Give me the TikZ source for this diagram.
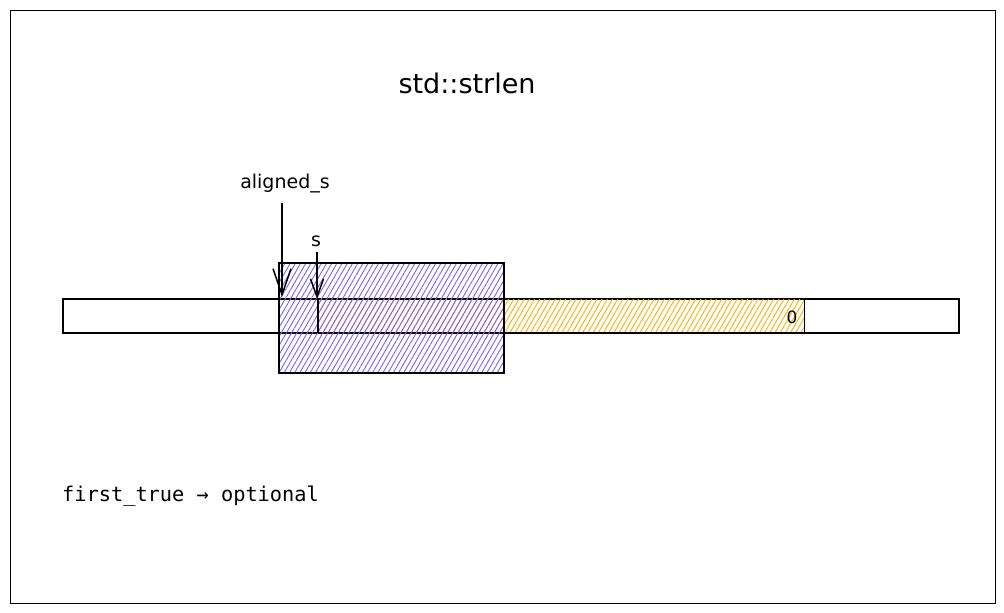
\documentclass[tikz,border=0pt]{standalone}
\usepackage{fontspec}
\setmainfont{DejaVu Sans}
\newfontfamily\codefont{DejaVu Sans Mono}
\usetikzlibrary{arrows.meta,patterns.meta}
\definecolor{hatchorange}{HTML}{FAB005}
\definecolor{hatchpurple}{HTML}{7F62F2}
\tikzset{
  sketch/.style={draw=black, line width=1.5pt},
  orangehatch/.style={pattern={Lines[angle=60,distance=4.5pt,line width=0.9pt]}, pattern color=hatchorange},
  purplehatch/.style={pattern={Lines[angle=60,distance=4.5pt,line width=0.9pt]}, pattern color=hatchpurple},
  pointer/.style n args={2}{draw=black, line width=1.5pt, -{Straight Barb[length=#1,width=#2,line width=1.5pt]}},
  hand/.style={font=\fontsize{#1}{#1}\selectfont, inner sep=0pt},
}
\begin{document}
\begin{tikzpicture}[x=1pt,y=-1pt]
\useasboundingbox (0,0) rectangle (1004,613);
\fill[white] (0,0) rectangle (1004,613);
\node[draw=black, line width=1.3pt, minimum width=985pt, minimum height=593pt, inner sep=0pt, anchor=north west] (frame) at (10,10) {};
\node[hand=27] (title) at (467,83) {std::strlen};
% long bar
\node[sketch, fill=white, minimum width=896pt, minimum height=34pt, inner sep=0pt, anchor=north west] (bar) at (62,298) {};
% orange string region
\node[sketch, orangehatch, minimum width=486pt, minimum height=34pt, inner sep=0pt, anchor=north west] (str) at (318,298) {};
\node[hand=17] (zero) at (792,317) {0};
% purple block
\node[sketch, purplehatch, minimum width=225pt, minimum height=110pt, inner sep=0pt, anchor=north west] (block) at (278,262) {};
\draw[sketch] (str.north west) -- (str.south west);
% labels and pointers
\node[hand=19] (alignedlbl) at (285,184) {aligned\_s};
\node[hand=19] (slbl) at (316,241) {s};
\coordinate (atop) at (282,203);
\coordinate (abot) at (282,297);
\coordinate (stop) at (317,252);
\coordinate (sbot) at (317,299);
\draw[pointer={26pt}{18pt}] (atop) -- (abot);
\draw[pointer={18pt}{13pt}] (stop) -- (sbot);
\node[anchor=west, inner sep=0pt, font=\codefont\fontsize{20.3}{21}\selectfont] (note) at (62,496) {first\_true → optional};
\end{tikzpicture}
\end{document}
